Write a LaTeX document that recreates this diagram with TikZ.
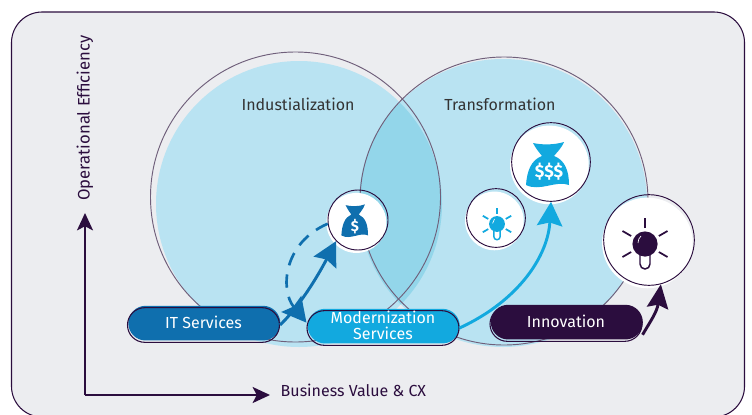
\documentclass[tikz,border=0pt]{standalone}
\usepackage{fontspec}
\setmainfont{Fira Sans}
\usetikzlibrary{arrows.meta}
\definecolor{inkdark}{HTML}{2B0D3E}
\definecolor{panelgray}{HTML}{ECEDF0}
\definecolor{venncyan}{HTML}{B9E3F2}
\definecolor{vennmid}{HTML}{93D6EA}
\definecolor{vennline}{HTML}{6F5F7A}
\definecolor{deepblue}{HTML}{0F6FAE}
\definecolor{skyblue}{HTML}{12A9DF}
\tikzset{
  pill/.style={draw=inkdark, line width=.8pt, rounded corners=13pt, minimum width=114pt, minimum height=26pt,
    inner sep=0pt, align=center, text=white, font=\fontsize{12}{12}\selectfont, text depth=4.5pt,
    preaction={fill=#1, transform canvas={xshift=.6pt, yshift=1.4pt}}},
  badge/.style={circle, draw=inkdark, line width=.7pt, inner sep=0pt, minimum size=#1,
    preaction={fill=white, transform canvas={xshift=-1.2pt, yshift=-2.2pt}}},
  axislabel/.style={text=inkdark, font=\fontsize{12}{12}\selectfont},
  vennlabel/.style={text=black!80, font=\fontsize{12}{12}\selectfont},
  bighead/.style={-{Stealth[length=18pt, width=19pt, inset=2.5pt]}},
  pics/moneybag/.style={code={
    \fill[#1] (-15,-22) .. controls (-6,-20) and (6,-20) .. (16,-23) .. controls (13,-16) and (9,-13) .. (6,-9)
      .. controls (17,-5) and (21,6) .. (21,20) .. controls (8,15) and (-8,27) .. (-22,20)
      .. controls (-21,6) and (-17,-5) .. (-6,-9) .. controls (-9,-13) and (-12,-16) .. (-15,-22) -- cycle;
  }},
  pics/bulb/.style={code={
    \draw[#1, line width=1.1pt, fill=white] (-5,8) -- (-5,20) arc[start angle=180, end angle=0, radius=5] -- (5,8);
    \fill[#1] (0,0) circle (12.6);
    \draw[white, line width=.5pt] (-7,-1) .. controls (-7,-4) and (-6,-6) .. (-4,-8);
    \foreach \ang in {-90,-30,-150,30,150}
      \draw[#1, line width=1.3pt] (\ang:16) -- (\ang:26);
  }},
}
\begin{document}
\begin{tikzpicture}[x=.75pt, y=-.75pt]
  \useasboundingbox (0,0) rectangle (752,414);
  \clip (0,0) rectangle (752,414);
  % panel, runs past the bottom edge
  \draw[inkdark, fill=panelgray, line width=.8pt, rounded corners=23pt] (11.5,12) rectangle (744.5,417);

  % light discs and their overlap
  \fill[venncyan] (299,204) circle (143);
  \fill[venncyan] (503,203) circle (144);
  \begin{scope}
    \clip (299,204) circle (143);
    \fill[vennmid] (503,203) circle (144);
  \end{scope}

  % thin outlines
  \draw[vennline, line width=.7pt] (295.5,197) circle (145);
  \draw[vennline, line width=.7pt] (504,201) circle (144);

  % axes
  \coordinate (axisorigin) at (85,395);
  \coordinate (axisytop) at (85,213);
  \coordinate (axisxend) at (270,395);
  \draw[inkdark, line width=1.3pt, -{Stealth[length=13pt, width=12pt, inset=3pt]}] (axisorigin) -- (axisytop);
  \draw[inkdark, line width=1.3pt, -{Stealth[length=13pt, width=12pt, inset=3pt]}] (axisorigin) -- (axisxend);
  \node[axislabel, rotate=90, font=\fontsize{12.5}{13}\selectfont] (labelefficiency) at (85,118) {Operational Efficiency};
  \node[axislabel, anchor=west] (labelvalue) at (276,390) {Business Value \& CX};

  % venn titles
  \node[vennlabel] (labelindustrial) at (298,104) {Industialization};
  \node[vennlabel] (labeltransform) at (500,104) {Transformation};

  % the three pills
  \node[pill=deepblue] (itservices) at (203.5,325) {IT Services};
  \node[pill=skyblue] (modernization) at (383,328) {Modernization\\Services};
  \node[pill=inkdark] (innovation) at (566,324) {Innovation};

  % badges
  \node[badge=45pt] (moneysmall) at (358,220) {};
  \node[badge=44pt] (bulbsmall) at (496,218) {};
  \node[badge=59pt] (moneylarge) at (551,162) {};
  \node[badge=68pt] (bulblarge) at (649,240) {};

  % icons
  \pic[xscale=.62, yscale=.72] at (355,221) {moneybag=deepblue};
  \node[text=white, font=\bfseries\fontsize{11}{12}\selectfont, inner sep=0pt] (dollarsmall) at (355,227) {\$};
  \pic at (548,165) {moneybag=skyblue};
  \node[text=white, font=\bfseries\fontsize{13}{14}\selectfont, inner sep=0pt] (dollarlarge) at (549,172) {\$\$\$};
  \pic[scale=.63] at (497,224) {bulb=skyblue};
  \pic at (645,244) {bulb=inkdark};

  % arrows between pills and badges
  \draw[deepblue, line width=2.2pt, bighead] (itservices.east) .. controls (303,303) and (322,268) .. (moneysmall.-136);
  \draw[deepblue, line width=2pt, dash pattern=on 10pt off 7pt, bighead] (moneysmall.187) .. controls (283,243) and (280,290) .. (modernization.176);
  \draw[skyblue, line width=2.2pt, bighead] (modernization.east) .. controls (520,300) and (548,255) .. (moneylarge.south);
  \draw[inkdark, line width=2.2pt, -{Stealth[length=18pt, width=16pt, inset=2.5pt]}] (innovation.-8) .. controls (650,322) and (657,312) .. (bulblarge.-75);
\end{tikzpicture}
\end{document}
